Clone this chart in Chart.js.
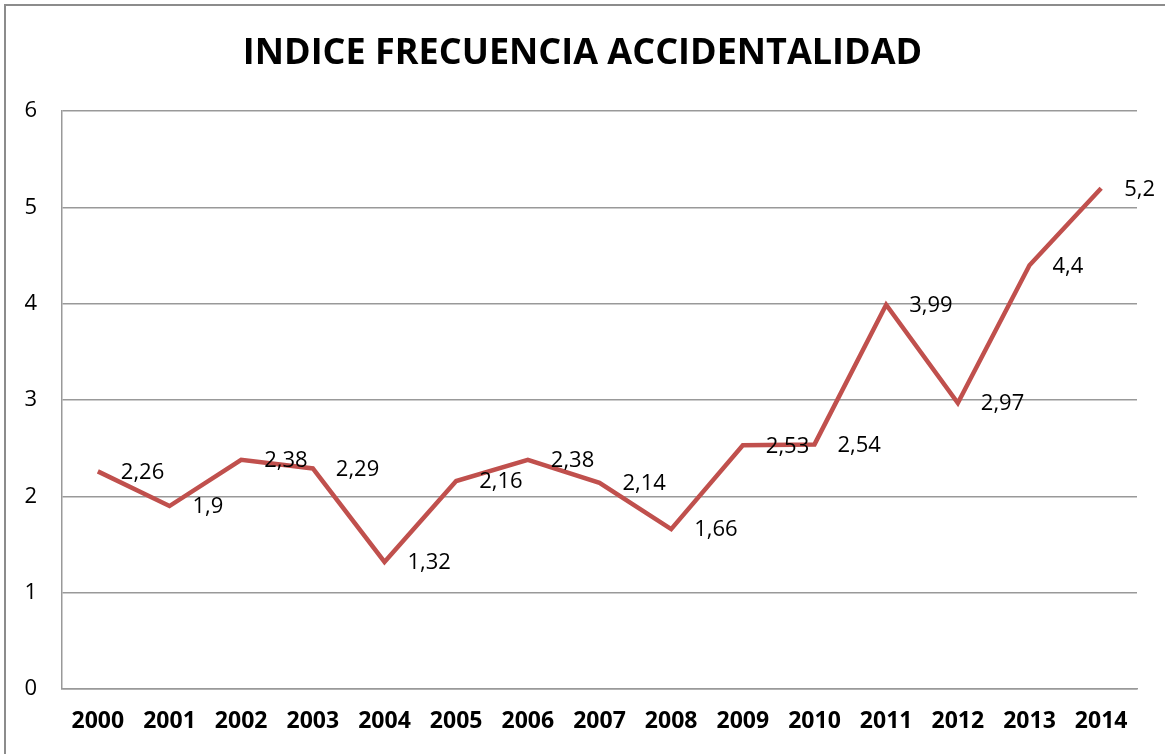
<!DOCTYPE html>
<html>
<head>
<meta charset="utf-8">
<script src="https://cdn.jsdelivr.net/npm/chart.js@4/dist/chart.umd.min.js"></script>
<style>
  html, body { margin: 0; padding: 0; background: #fff; overflow: hidden; }
  #frame { position: absolute; left: 4px; top: 4px; width: 1200px; height: 800px; border: 2px solid #8c8c8c; }
  #wrap { position: absolute; left: 0; top: 0; width: 1165px; height: 754px; }
</style>
</head>
<body>
<div id="frame"></div>
<div id="wrap"><canvas id="chart"></canvas></div>
<script>
const years = ["2000", "2001", "2002", "2003", "2004", "2005", "2006", "2007",
  "2008", "2009", "2010", "2011", "2012", "2013", "2014"];
const indice = [2.26, 1.9, 2.38, 2.29, 1.32, 2.16, 2.38, 2.14, 1.66, 2.53, 2.54, 3.99, 2.97, 4.4, 5.2];
const yTicks = [0, 1, 2, 3, 4, 5, 6];

const FONT = "'Open Sans', 'Liberation Sans', sans-serif";

// etiquetas de datos a la derecha de cada punto, con coma decimal
const dataLabels = {
  id: "dataLabels",
  afterDatasetsDraw(chart) {
    const ctx = chart.ctx;
    const meta = chart.getDatasetMeta(0);
    ctx.save();
    ctx.font = "22px " + FONT;
    ctx.fillStyle = "#000";
    ctx.textAlign = "left";
    ctx.textBaseline = "middle";
    meta.data.forEach((pt, i) => {
      const txt = String(indice[i]).replace(".", ",");
      ctx.fillText(txt, pt.x + 23, pt.y + 1);
    });
    ctx.restore();
  }
};

new Chart(document.getElementById("chart"), {
  type: "line",
  data: {
    labels: years,
    datasets: [{
      data: indice,
      borderColor: "#c0504d",
      borderWidth: 4.5,
      pointRadius: 0,
      tension: 0,
      borderJoinStyle: "miter"
    }]
  },
  options: {
    responsive: true,
    maintainAspectRatio: false,
    animation: false,
    layout: { padding: 0 },
    plugins: {
      legend: { display: false },
      tooltip: { enabled: false },
      title: {
        display: true,
        text: "INDICE FRECUENCIA ACCIDENTALIDAD",
        color: "#000",
        font: { family: FONT, size: 36, weight: "bold", lineHeight: 1.2 },
        padding: { top: 32, bottom: 36 }
      }
    },
    scales: {
      x: {
        offset: true,
        grid: { display: false, drawTicks: false },
        border: { display: true, color: "#999", width: 1.5 },
        ticks: { color: "#000", padding: 19, maxRotation: 0, autoSkip: false,
          font: { family: FONT, size: 23, weight: "bold" } },
        afterFit(s) { s.height = 65; }
      },
      y: {
        min: 0,
        max: 6,
        afterBuildTicks(s) { s.ticks = yTicks.map((v) => ({ value: v })); },
        grid: { color: "#999", lineWidth: 1.5, drawTicks: false, tickLength: 0 },
        border: { display: true, color: "#999", width: 1.5 },
        ticks: { color: "#000", padding: 25, font: { family: FONT, size: 22 } },
        afterFit(s) { s.width = 62; }
      },
      // hueco a la derecha del área de trazado
      yRight: {
        position: "right",
        min: 0,
        max: 6,
        grid: { display: false, drawTicks: false },
        border: { display: false },
        ticks: { display: false },
        afterFit(s) { s.width = 28; }
      }
    }
  },
  plugins: [dataLabels]
});
</script>
</body>
</html>
